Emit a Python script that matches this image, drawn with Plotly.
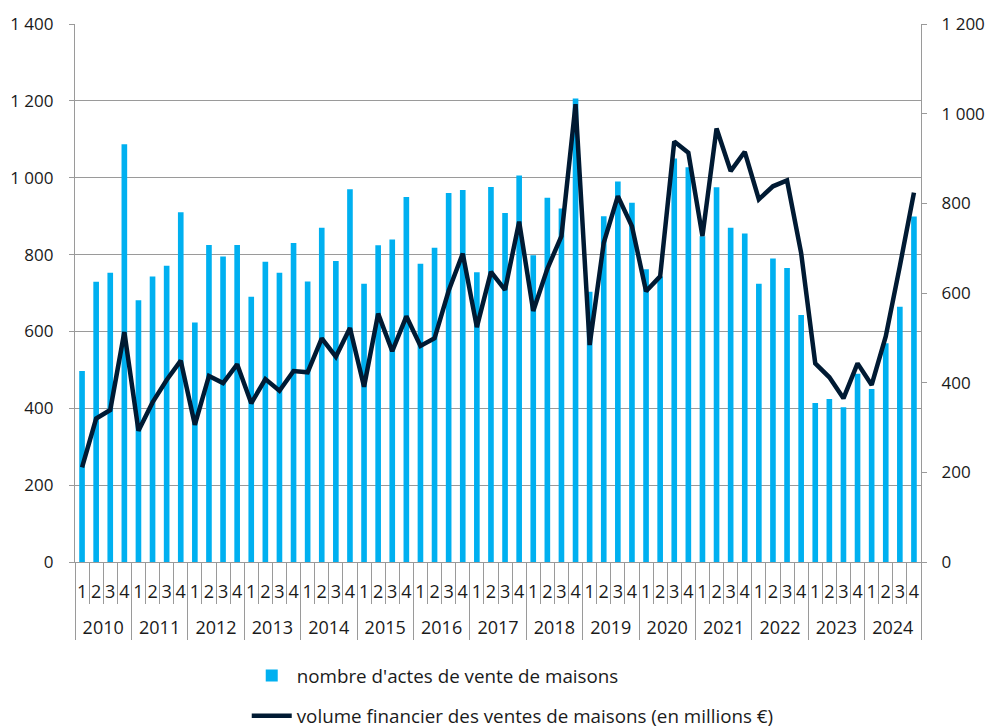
import plotly.graph_objects as go

years = ["2010", "2011", "2012", "2013", "2014", "2015", "2016", "2017",
         "2018", "2019", "2020", "2021", "2022", "2023", "2024"]
quarters = ["1", "2", "3", "4"]

nombre_actes = [497, 729, 753, 1087, 681, 743, 771, 910, 623, 825, 795, 825,
                690, 781, 753, 830, 730, 870, 783, 970, 724, 824, 839, 950,
                776, 818, 960, 968, 754, 976, 908, 1006, 798, 948, 920, 1206,
                703, 900, 990, 935, 762, 743, 1050, 1027, 848, 975, 870, 855,
                724, 790, 765, 643, 414, 424, 403, 490, 450, 569, 664, 899]

volume = [211, 320, 339, 513, 293, 356, 406, 449, 306, 415, 399, 441,
          354, 408, 382, 426, 423, 499, 458, 522, 391, 554, 470, 548,
          482, 499, 605, 688, 524, 647, 607, 759, 560, 654, 727, 1021,
          484, 712, 816, 749, 604, 637, 938, 913, 727, 967, 872, 915,
          809, 838, 851, 689, 443, 412, 365, 443, 395, 503, 660, 824]

left_ticks = [0, 200, 400, 600, 800, 1000, 1200, 1400]
left_labels = ["0", "200", "400", "600", "800", "1 000", "1 200", "1 400"]
right_ticks = [0, 200, 400, 600, 800, 1000, 1200]
right_labels = ["0", "200", "400", "600", "800", "1 000", "1 200"]

x_year = [y for y in years for q in quarters]
# a blank second line under each quarter label gives the year row its spacing
x_quarter = [q + "<br>\u00a0" for y in years for q in quarters]

GRID = "#9a9a9a"
FONT = "Open Sans"
TXT = "#1a1a1a"

fig = go.Figure()
fig.add_trace(go.Bar(
    x=[x_year, x_quarter], y=nombre_actes,
    name="nombre d'actes de vente de maisons",
    marker=dict(color="#00b0f0", line=dict(width=0)),
    legendgroup="a",
))
fig.add_trace(go.Scatter(
    x=[x_year, x_quarter], y=volume, yaxis="y2",
    name="volume financier des ventes de maisons (en millions €)",
    mode="lines", line=dict(color="#001a33", width=4.5),
    legendgroup="b",
))

fig.update_layout(
    width=989, height=726,
    margin=dict(l=75, r=68, t=24, b=164, autoexpand=False),
    paper_bgcolor="white", plot_bgcolor="white",
    font=dict(family=FONT, size=17, color=TXT),
    bargap=0.6,
    showlegend=True,
    legend=dict(orientation="v", x=0.203, xanchor="left", y=-0.176, yanchor="top",
                tracegroupgap=13, traceorder="grouped", itemwidth=40,
                font=dict(family=FONT, size=18.8, color=TXT)),
    xaxis=dict(type="multicategory", showgrid=False, showline=True, automargin=False,
               linecolor=GRID, linewidth=1.3, ticks="outside", tickson="boundaries",
               ticklen=41, tickcolor=GRID, tickwidth=1.3, tickangle=0,
               tickmode="linear", dtick=1,
               showdividers=True, dividercolor=GRID, dividerwidth=1.3,
               ticklabelstandoff=13,
               tickfont=dict(family=FONT, size=18, color=TXT)),
    yaxis=dict(range=[0, 1400], tickvals=left_ticks, ticktext=left_labels,
               automargin=False, ticklabelstandoff=12,
               showgrid=True, gridcolor=GRID, gridwidth=1.3, zeroline=False,
               showline=True, linecolor=GRID, linewidth=1.3,
               ticks="outside", ticklen=5, tickcolor=GRID, tickwidth=1.3),
    yaxis2=dict(range=[0, 1200], tickvals=right_ticks, ticktext=right_labels,
                automargin=False, ticklabelstandoff=11,
                overlaying="y", side="right", showgrid=False, zeroline=False,
                showline=True, linecolor=GRID, linewidth=1.3,
                ticks="outside", ticklen=5, tickcolor=GRID, tickwidth=1.3),
)

fig.write_html(
    "out.html",
    config={"displayModeBar": False},
    post_script="document.body.style.margin='0';document.body.style.overflow='hidden';",
)
